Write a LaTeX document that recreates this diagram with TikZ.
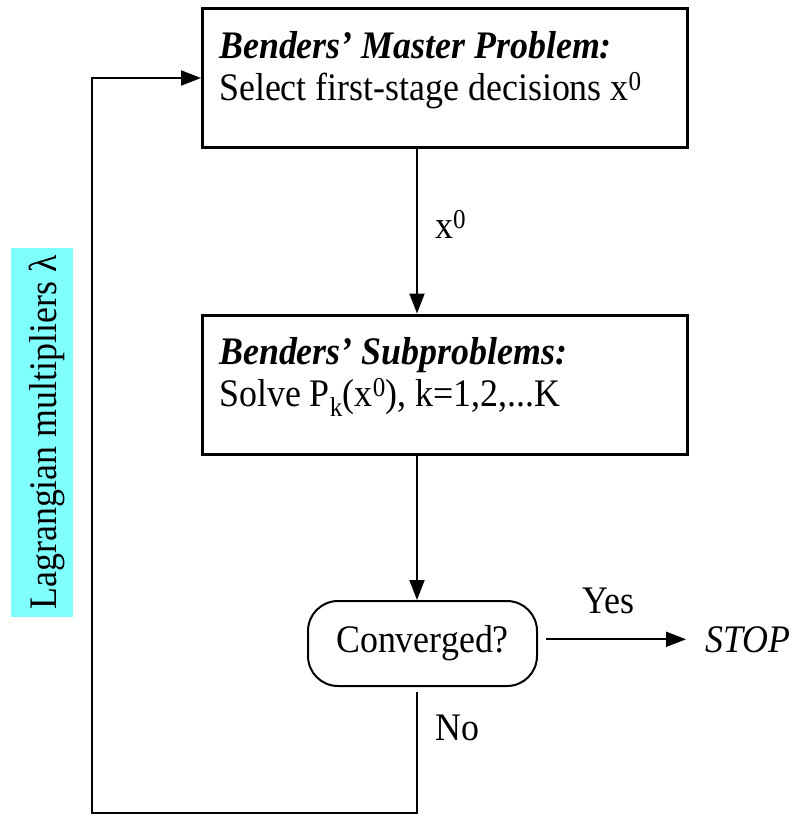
\documentclass[tikz,border=0pt]{standalone}
\usepackage{fontspec}
\setmainfont{Liberation Serif}[FakeStretch=0.92]
\usetikzlibrary{arrows.meta}
\definecolor{lagcyan}{RGB}{128,255,255}
\tikzset{
  every node/.style={font=\fontsize{39}{45}\selectfont},
  stage/.style={draw, line width=3pt, minimum width=485pt, minimum height=139pt},
  test/.style={draw, line width=2pt, rounded corners=30pt, minimum width=229pt, minimum height=85pt},
  lbl/.style={anchor=base west, inner sep=0pt},
  flow/.style={line width=2pt, -{Triangle[length=20pt,width=15pt]}},
}
\begin{document}
\begin{tikzpicture}[x=1pt, y=-1pt]
\useasboundingbox (0, 0) rectangle (795, 817);
\node[fill=lagcyan, rotate=90, minimum width=369pt, minimum height=62pt,
      text height=31pt, text depth=3pt, inner sep=0pt] at (42, 432.5) (lm) {Lagrangian multipliers λ};
\node[stage] at (445, 78) (mp) {};
\node[lbl] at (219, 58) (mpt) {\textbf{\textit{Benders' Master Problem:}}};
\node[lbl] at (219, 100) (mpb) {Select first-stage decisions x\textsuperscript{0}};
\node[stage] at (445, 384.5) (sp) {};
\node[lbl] at (219, 364) (spt) {\textbf{\textit{Benders' Subproblems:}}};
\node[lbl] at (219, 406) (spb) {Solve P\textsubscript{k}(x\textsuperscript{0}), k=1,2,...K};
\node[test] at (422.5, 643.5) (cv) {Converged?};
\node[lbl] at (705, 652) (stop) {\textit{STOP}};
\node[lbl] at (435, 238) (x0) {x\textsuperscript{0}};
\node[lbl] at (582, 613) (yes) {Yes};
\node[lbl] at (435, 740) (no) {No};
\coordinate (spine) at (417, 0);
\coordinate (lo) at (417, 813);
\coordinate (ll) at (92, 813);
\coordinate (ul) at (92, 78);
\path[flow] (mp.south -| spine) edge (sp.north -| spine)
            (sp.south -| spine) edge (cv.north -| spine)
            (cv.east |- stop.west) edge[shorten <=8pt, shorten >=19pt] (stop.west);
\draw[flow] ([yshift=-5pt]cv.south -| spine) -- (lo) -- (ll) -- (ul) -- (mp.west);
\end{tikzpicture}
\end{document}
